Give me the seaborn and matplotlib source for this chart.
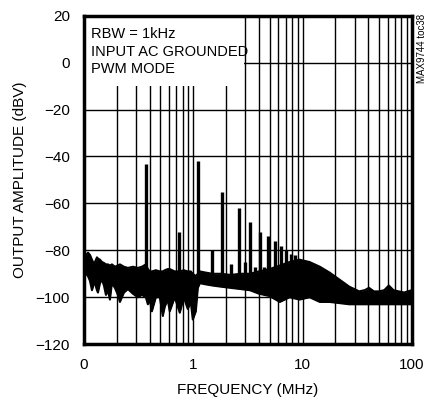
import numpy as np
import pandas as pd
import matplotlib
matplotlib.use("Agg")
import matplotlib.pyplot as plt
import seaborn as sns
from matplotlib.patches import Rectangle

# noise floor envelope (MHz, dBV)
freq_env = [0.1, 0.1043, 0.1088, 0.1134, 0.1183, 0.1234, 0.126, 0.1314, 0.1342, 0.14,
            0.146, 0.1523, 0.1588, 0.1656, 0.1727, 0.1801, 0.1919, 0.2044, 0.2132, 0.2319,
            0.2523, 0.2803, 0.3114, 0.3387, 0.3684, 0.3842, 0.4007, 0.4179, 0.4546, 0.4944,
            0.5262, 0.5488, 0.5841, 0.6092, 0.6772, 0.7529, 0.819, 0.8908, 0.9491, 0.9903,
            1.0554, 1.101, 1.15, 1.3, 1.5, 1.8, 2.2, 2.7, 3.3,
            4.0, 5.0, 6.2, 7.6, 9.4, 11.6, 14.4, 17.7, 21.8, 26.8, 33, 37, 40.6, 45, 50,
            56, 61.6, 68, 76, 85, 100]
upper_env = [-83, -82, -81, -82, -84, -86, -85, -83, -83.5, -84,
             -85, -85.4, -86, -86, -86.5, -86, -87, -86.5, -86, -87,
             -87.5, -87, -87.5, -87, -86, -88, -89, -89, -88.5, -89,
             -89, -88.5, -88, -88, -89, -89, -88.5, -89, -89, -90,
             -91, -90, -89, -89.5, -90, -90, -90.5, -90, -90,
             -89, -88, -86.5, -85, -84, -85, -87, -89.5, -92.5, -95.5, -97.5, -97, -96, -97.5, -97.5,
             -97, -95, -97, -97.5, -98, -97]
lower_env = [-88, -90, -91, -93, -97, -94, -94, -97, -98, -94,
             -92.5, -95, -99, -97, -101, -94, -96, -99, -102, -98,
             -96.5, -98.5, -100, -99, -100, -103, -101, -106, -100, -100,
             -108, -104, -101, -106, -100, -106.6, -100, -105, -102, -109.5,
             -106, -96, -94, -94.5, -95, -95.5, -96, -96.5, -97,
             -98.5, -99.5, -102, -100, -101, -100, -102, -102, -102.5, -103, -103, -103, -103, -103, -103,
             -103, -103, -103, -103, -103, -103]

# discrete harmonic spikes (MHz, peak dBV)
spike_freq = [0.37, 0.74, 1.1, 1.47, 1.85, 2.22, 2.6, 2.96, 3.33, 3.7, 4.07, 4.44,
              4.8, 5.55, 6.3, 7.0, 7.77, 8.5]
spike_peak = [-43, -72, -42, -80, -55, -86, -62, -85, -68, -87, -72, -87,
              -74, -76, -78, -80, -81.5, -82]

y_ticks = [20, 0, -20, -40, -60, -80, -100, -120]
x_ticks = [0.1, 1, 10, 100]
x_tick_labels = ["0", "1", "10", "100"]

sns.set_style("white")
plt.rcParams["font.family"] = ["Liberation Sans Narrow", "Liberation Sans", "DejaVu Sans"]
plt.rcParams["text.color"] = "black"
plt.rcParams["xtick.color"] = "black"
plt.rcParams["ytick.color"] = "black"
plt.rcParams["axes.labelcolor"] = "black"

env = pd.DataFrame({"freq": freq_env, "upper": upper_env, "lower": lower_env})

fig = plt.figure(figsize=(4.33, 4.03), dpi=100)
ax = fig.add_axes([0.194, 0.146, 0.757, 0.815])
ax.set_xscale("log")
ax.set_xlim(0.1, 100)
ax.set_ylim(-120, 20)

# grid
for d in [0.1, 1, 10]:
    for m in range(2, 11):
        ax.axvline(d * m, color="black", lw=1.0, zorder=1)
for yv in [0, -20, -40, -60, -80, -100]:
    ax.axhline(yv, color="black", lw=1.0, zorder=1)

# white box behind the notes
ax.add_patch(Rectangle((0, 0.787), 0.488, 0.213, transform=ax.transAxes,
                       facecolor="white", edgecolor="none", zorder=2))
ax.text(0.022, 0.965, "RBW = 1kHz\nINPUT AC GROUNDED\nPWM MODE", transform=ax.transAxes,
        ha="left", va="top", fontsize=10.5, linespacing=1.3, zorder=3)

sns.lineplot(data=env, x="freq", y="upper", color="black", lw=1.5, ax=ax, zorder=4)
sns.lineplot(data=env, x="freq", y="lower", color="black", lw=1.5, ax=ax, zorder=4)
ax.fill_between(env["freq"], env["lower"], env["upper"], color="black", lw=0, zorder=4)
ax.vlines(spike_freq, -92, spike_peak, color="black", lw=2.4, zorder=5)

ax.set_xticks(x_ticks)
ax.set_xticklabels(x_tick_labels)
ax.set_xticks([], minor=True)
ax.set_yticks(y_ticks)
ax.tick_params(axis="both", length=0, labelsize=11, pad=10)
ax.set_xlabel("FREQUENCY (MHz)", fontsize=11, labelpad=8)
ax.set_ylabel("OUTPUT AMPLITUDE (dBV)", fontsize=11, labelpad=6)
for s in ax.spines.values():
    s.set_linewidth(2.5)
    s.set_color("black")
    s.set_zorder(6)

fig.text(0.962, 0.965, "MAX9744 toc38", rotation=90, ha="left", va="top", fontsize=7)

plt.savefig("out.png", dpi=100)
